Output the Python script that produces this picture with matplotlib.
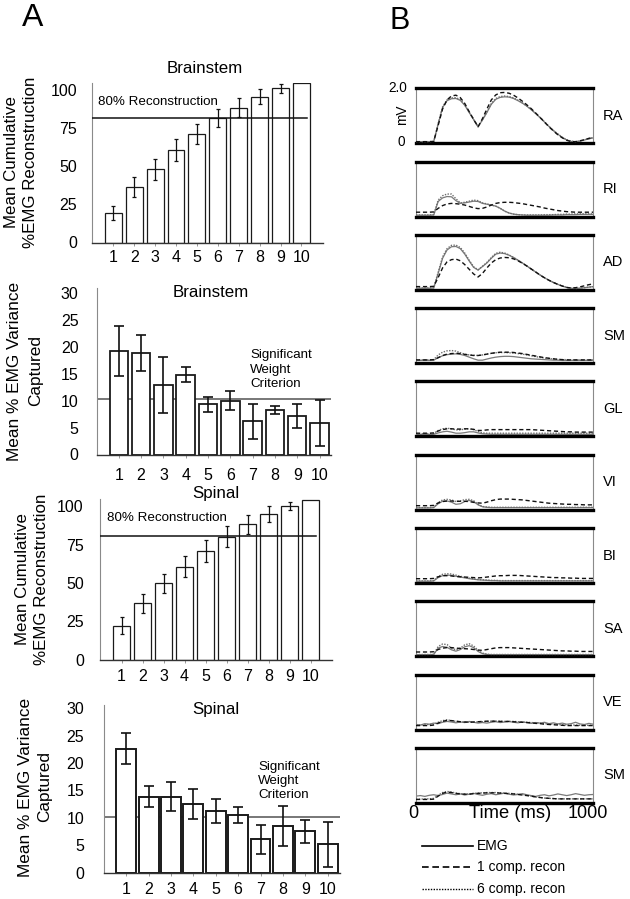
import matplotlib
matplotlib.use('Agg')
import matplotlib.pyplot as plt
from matplotlib.lines import Line2D

plt.rcParams['font.family'] = ['Liberation Sans', 'DejaVu Sans']

# ---------------- data: panel A ----------------
components = list(range(1, 11))
comp_labels = [str(c) for c in components]

bs_cum = [19.5, 36.2, 48.0, 60.6, 71.1, 81.4, 88.3, 95.5, 101.0, 104.7]
bs_cum_err = [4.7, 6.7, 7.0, 6.9, 6.8, 6.0, 6.2, 4.8, 2.8, 0]
bs_var = [19.25, 18.8, 12.9, 14.8, 9.3, 10.0, 6.2, 8.25, 7.2, 5.8]
bs_var_err = [4.65, 3.3, 5.2, 1.4, 1.4, 1.7, 3.25, 0.8, 2.2, 4.3]
sp_cum = [22.1, 36.7, 49.8, 60.7, 71.1, 80.3, 88.4, 94.9, 100.5, 104.2]
sp_cum_err = [5.4, 6.3, 6.3, 7.0, 7.1, 6.7, 6.3, 5.3, 2.5, 0]
sp_var = [22.6, 13.9, 13.9, 12.5, 11.3, 10.5, 6.1, 8.5, 7.6, 5.2]
sp_var_err = [2.8, 1.95, 2.65, 2.7, 2.2, 1.45, 2.6, 3.65, 2.1, 4.1]

bs_recon_line = 81.8
sp_recon_line = 80.9
bs_weight_line = 10.2
sp_weight_line = 10.2

cum_yticks = [0, 25, 50, 75, 100]
var_yticks = [0, 5, 10, 15, 20, 25, 30]

# ---------------- data: panel B ----------------
time_ms = list(range(0, 1001, 25))
muscles = ['RA', 'RI', 'AD', 'SM', 'GL', 'VI', 'BI', 'SA', 'VE', 'SM']

ra_emg = [0.05, 0.05, 0.05, 0.05, 0.06, 0.7, 1.3, 1.55, 1.62, 1.63,
          1.56, 1.38, 1.12, 0.86, 0.6, 0.85, 1.12, 1.42, 1.6, 1.67,
          1.69, 1.68, 1.63, 1.55, 1.46, 1.35, 1.22, 1.08, 0.93, 0.77,
          0.61, 0.46, 0.33, 0.21, 0.12, 0.07, 0.05, 0.08, 0.12, 0.16, 0.2]
ra_c1 = [0.06, 0.06, 0.06, 0.06, 0.07, 0.65, 1.25, 1.58, 1.72, 1.75,
         1.66, 1.45, 1.15, 0.87, 0.6, 0.9, 1.25, 1.58, 1.76, 1.84,
         1.85, 1.82, 1.75, 1.65, 1.53, 1.4, 1.26, 1.1, 0.94, 0.77,
         0.6, 0.45, 0.31, 0.2, 0.11, 0.06, 0.06, 0.09, 0.13, 0.18, 0.22]
ra_c6 = [0.06, 0.06, 0.06, 0.06, 0.07, 0.72, 1.33, 1.58, 1.65, 1.66,
         1.59, 1.4, 1.13, 0.87, 0.61, 0.86, 1.14, 1.45, 1.63, 1.7,
         1.72, 1.7, 1.65, 1.57, 1.47, 1.36, 1.23, 1.09, 0.94, 0.78,
         0.62, 0.47, 0.34, 0.22, 0.13, 0.08, 0.06, 0.09, 0.13, 0.17, 0.21]

ri_emg = [0.05, 0.05, 0.05, 0.05, 0.06, 0.55, 0.68, 0.73, 0.72, 0.58,
          0.48, 0.5, 0.53, 0.56, 0.55, 0.48, 0.45, 0.42, 0.38, 0.3,
          0.2, 0.13, 0.09, 0.07, 0.06, 0.05, 0.05, 0.05, 0.05, 0.05,
          0.05, 0.06, 0.06, 0.06, 0.07, 0.07, 0.07, 0.08, 0.08, 0.08, 0.08]
ri_c1 = [0.16, 0.16, 0.16, 0.16, 0.17, 0.3, 0.4, 0.46, 0.48, 0.47,
         0.45, 0.42, 0.37, 0.32, 0.29, 0.3, 0.35, 0.42, 0.48, 0.51,
         0.52, 0.52, 0.51, 0.49, 0.47, 0.44, 0.41, 0.38, 0.35, 0.31,
         0.28, 0.25, 0.22, 0.2, 0.18, 0.17, 0.16, 0.16, 0.16, 0.16, 0.16]
ri_c6 = [0.06, 0.06, 0.06, 0.06, 0.07, 0.6, 0.76, 0.82, 0.82, 0.65,
         0.5, 0.52, 0.56, 0.6, 0.58, 0.5, 0.46, 0.42, 0.38, 0.3,
         0.2, 0.13, 0.09, 0.07, 0.06, 0.06, 0.06, 0.06, 0.06, 0.07,
         0.07, 0.07, 0.08, 0.08, 0.09, 0.09, 0.1, 0.1, 0.1, 0.1, 0.1]

ad_emg = [0.06, 0.06, 0.06, 0.06, 0.07, 0.6, 1.15, 1.45, 1.57, 1.58,
          1.5, 1.3, 1.05, 0.82, 0.72, 0.85, 0.98, 1.15, 1.3, 1.34,
          1.32, 1.26, 1.18, 1.08, 0.98, 0.87, 0.76, 0.65, 0.54, 0.44,
          0.35, 0.27, 0.2, 0.14, 0.09, 0.06, 0.05, 0.06, 0.08, 0.1, 0.12]
ad_c1 = [0.12, 0.12, 0.12, 0.12, 0.13, 0.45, 0.8, 1.02, 1.1, 1.12,
         1.06, 0.92, 0.75, 0.58, 0.47, 0.6, 0.8, 0.98, 1.1, 1.16,
         1.18, 1.17, 1.13, 1.06, 0.97, 0.87, 0.76, 0.65, 0.54, 0.44,
         0.35, 0.27, 0.2, 0.14, 0.09, 0.07, 0.08, 0.11, 0.15, 0.19, 0.22]
ad_c6 = [0.07, 0.07, 0.07, 0.07, 0.08, 0.64, 1.2, 1.5, 1.62, 1.63,
         1.54, 1.34, 1.08, 0.84, 0.73, 0.86, 1.0, 1.18, 1.33, 1.37,
         1.34, 1.27, 1.18, 1.08, 0.98, 0.87, 0.76, 0.65, 0.54, 0.44,
         0.35, 0.27, 0.2, 0.14, 0.09, 0.06, 0.05, 0.06, 0.08, 0.1, 0.12]

sm1_emg = [0.1, 0.1, 0.1, 0.1, 0.11, 0.2, 0.27, 0.31, 0.33, 0.34,
           0.32, 0.28, 0.22, 0.16, 0.11, 0.11, 0.15, 0.19, 0.22, 0.24,
           0.25, 0.25, 0.24, 0.22, 0.2, 0.18, 0.16, 0.15, 0.14, 0.13,
           0.12, 0.11, 0.11, 0.1, 0.1, 0.1, 0.1, 0.1, 0.1, 0.1, 0.1]
sm1_c1 = [0.12, 0.12, 0.12, 0.12, 0.13, 0.2, 0.28, 0.33, 0.35, 0.36,
          0.35, 0.32, 0.3, 0.28, 0.28, 0.3, 0.33, 0.36, 0.38, 0.4,
          0.4, 0.4, 0.39, 0.37, 0.35, 0.32, 0.29, 0.26, 0.23, 0.2,
          0.18, 0.16, 0.14, 0.13, 0.12, 0.12, 0.12, 0.12, 0.12, 0.12, 0.12]
sm1_c6 = [0.12, 0.12, 0.12, 0.12, 0.13, 0.3, 0.4, 0.45, 0.46, 0.44,
          0.38, 0.33, 0.3, 0.29, 0.28, 0.3, 0.33, 0.36, 0.38, 0.39,
          0.39, 0.38, 0.37, 0.35, 0.33, 0.3, 0.27, 0.24, 0.21, 0.19,
          0.17, 0.15, 0.14, 0.13, 0.13, 0.12, 0.12, 0.12, 0.12, 0.12, 0.12]

gl_emg = [0.07, 0.07, 0.07, 0.07, 0.08, 0.13, 0.17, 0.19, 0.16, 0.12,
          0.12, 0.14, 0.17, 0.17, 0.13, 0.1, 0.09, 0.08, 0.08, 0.08,
          0.08, 0.08, 0.08, 0.08, 0.08, 0.08, 0.08, 0.08, 0.08, 0.08,
          0.08, 0.08, 0.08, 0.08, 0.08, 0.08, 0.08, 0.08, 0.08, 0.08, 0.08]
gl_c1 = [0.12, 0.12, 0.12, 0.12, 0.13, 0.2, 0.25, 0.28, 0.28, 0.27,
         0.27, 0.28, 0.28, 0.26, 0.22, 0.22, 0.24, 0.25, 0.25, 0.25,
         0.25, 0.25, 0.25, 0.25, 0.25, 0.25, 0.25, 0.24, 0.23, 0.22,
         0.21, 0.2, 0.19, 0.18, 0.17, 0.17, 0.16, 0.16, 0.16, 0.16, 0.16]
gl_c6 = [0.1, 0.1, 0.1, 0.1, 0.11, 0.22, 0.28, 0.3, 0.28, 0.24,
         0.24, 0.27, 0.28, 0.25, 0.18, 0.13, 0.12, 0.12, 0.12, 0.12,
         0.12, 0.12, 0.12, 0.12, 0.12, 0.12, 0.12, 0.12, 0.12, 0.12,
         0.12, 0.12, 0.12, 0.12, 0.12, 0.12, 0.12, 0.12, 0.12, 0.12, 0.12]

vi_emg = [0.07, 0.07, 0.07, 0.07, 0.08, 0.22, 0.31, 0.32, 0.28, 0.2,
          0.22, 0.3, 0.34, 0.3, 0.18, 0.11, 0.09, 0.08, 0.08, 0.08,
          0.08, 0.08, 0.08, 0.08, 0.08, 0.08, 0.08, 0.08, 0.08, 0.08,
          0.08, 0.08, 0.08, 0.08, 0.08, 0.08, 0.08, 0.08, 0.08, 0.08, 0.08]
vi_c1 = [0.15, 0.15, 0.15, 0.15, 0.16, 0.25, 0.3, 0.32, 0.32, 0.31,
         0.31, 0.31, 0.3, 0.27, 0.25, 0.24, 0.28, 0.33, 0.37, 0.39,
         0.39, 0.39, 0.38, 0.37, 0.36, 0.34, 0.32, 0.3, 0.28, 0.26,
         0.24, 0.23, 0.22, 0.21, 0.2, 0.2, 0.19, 0.19, 0.18, 0.18, 0.18]
vi_c6 = [0.08, 0.08, 0.08, 0.08, 0.09, 0.26, 0.36, 0.38, 0.36, 0.3,
         0.32, 0.37, 0.38, 0.33, 0.2, 0.12, 0.1, 0.09, 0.09, 0.09,
         0.09, 0.09, 0.09, 0.09, 0.09, 0.09, 0.09, 0.09, 0.09, 0.09,
         0.09, 0.09, 0.09, 0.09, 0.09, 0.09, 0.09, 0.09, 0.09, 0.09, 0.09]

bi_emg = [0.07, 0.07, 0.07, 0.07, 0.08, 0.2, 0.27, 0.29, 0.28, 0.25,
          0.22, 0.19, 0.16, 0.14, 0.12, 0.11, 0.1, 0.09, 0.09, 0.08,
          0.08, 0.08, 0.08, 0.08, 0.08, 0.08, 0.08, 0.08, 0.08, 0.08,
          0.08, 0.08, 0.08, 0.08, 0.08, 0.08, 0.08, 0.08, 0.08, 0.08, 0.08]
bi_c1 = [0.16, 0.16, 0.16, 0.16, 0.17, 0.23, 0.27, 0.27, 0.26, 0.24,
         0.23, 0.22, 0.21, 0.2, 0.19, 0.2, 0.22, 0.24, 0.26, 0.27,
         0.27, 0.28, 0.28, 0.28, 0.27, 0.26, 0.25, 0.24, 0.23, 0.22,
         0.21, 0.2, 0.2, 0.19, 0.19, 0.18, 0.18, 0.17, 0.17, 0.17, 0.17]
bi_c6 = [0.08, 0.08, 0.08, 0.08, 0.09, 0.24, 0.32, 0.34, 0.33, 0.29,
         0.25, 0.21, 0.18, 0.15, 0.13, 0.12, 0.11, 0.1, 0.1, 0.09,
         0.09, 0.09, 0.09, 0.09, 0.09, 0.09, 0.09, 0.09, 0.09, 0.09,
         0.09, 0.09, 0.09, 0.09, 0.09, 0.09, 0.09, 0.09, 0.09, 0.09, 0.09]

sa_emg = [0.06, 0.06, 0.06, 0.06, 0.07, 0.3, 0.36, 0.33, 0.24, 0.19,
          0.25, 0.35, 0.39, 0.32, 0.18, 0.1, 0.07, 0.06, 0.06, 0.06,
          0.06, 0.06, 0.06, 0.06, 0.06, 0.06, 0.06, 0.06, 0.06, 0.06,
          0.06, 0.06, 0.06, 0.06, 0.06, 0.06, 0.06, 0.06, 0.06, 0.06, 0.06]
sa_c1 = [0.16, 0.16, 0.16, 0.16, 0.17, 0.25, 0.3, 0.32, 0.32, 0.3,
         0.29, 0.28, 0.27, 0.25, 0.23, 0.22, 0.25, 0.28, 0.31, 0.32,
         0.32, 0.32, 0.31, 0.3, 0.29, 0.28, 0.27, 0.26, 0.25, 0.24,
         0.23, 0.22, 0.21, 0.2, 0.2, 0.19, 0.19, 0.18, 0.18, 0.18, 0.18]
sa_c6 = [0.07, 0.07, 0.07, 0.07, 0.08, 0.36, 0.45, 0.43, 0.3, 0.24,
         0.3, 0.42, 0.46, 0.38, 0.22, 0.12, 0.08, 0.07, 0.07, 0.07,
         0.07, 0.07, 0.07, 0.07, 0.07, 0.07, 0.07, 0.07, 0.07, 0.07,
         0.07, 0.07, 0.07, 0.07, 0.07, 0.07, 0.07, 0.07, 0.07, 0.07, 0.07]

ve_emg = [0.19, 0.17, 0.22, 0.2, 0.24, 0.22, 0.27, 0.3, 0.28, 0.25,
          0.28, 0.26, 0.3, 0.27, 0.24, 0.26, 0.24, 0.27, 0.29, 0.26,
          0.28, 0.3, 0.27, 0.25, 0.28, 0.26, 0.23, 0.26, 0.24, 0.27,
          0.22, 0.25, 0.21, 0.24, 0.2, 0.22, 0.27, 0.21, 0.19, 0.23, 0.2]
ve_c1 = [0.15, 0.15, 0.15, 0.15, 0.17, 0.24, 0.3, 0.34, 0.33, 0.31,
         0.29, 0.28, 0.27, 0.28, 0.29, 0.3, 0.31, 0.31, 0.31, 0.3,
         0.3, 0.3, 0.29, 0.28, 0.27, 0.26, 0.25, 0.23, 0.22, 0.2,
         0.19, 0.18, 0.17, 0.16, 0.15, 0.15, 0.15, 0.15, 0.15, 0.15, 0.15]
ve_c6 = [0.17, 0.17, 0.18, 0.19, 0.2, 0.27, 0.33, 0.36, 0.33, 0.3,
         0.29, 0.28, 0.27, 0.27, 0.28, 0.29, 0.3, 0.31, 0.31, 0.31,
         0.3, 0.3, 0.3, 0.29, 0.28, 0.27, 0.26, 0.25, 0.24, 0.22,
         0.21, 0.2, 0.19, 0.18, 0.17, 0.17, 0.17, 0.16, 0.16, 0.16, 0.16]

sm2_emg = [0.25, 0.27, 0.24, 0.28, 0.3, 0.27, 0.31, 0.36, 0.33, 0.3,
           0.33, 0.29, 0.32, 0.35, 0.31, 0.28, 0.32, 0.34, 0.3, 0.33,
           0.36, 0.32, 0.29, 0.31, 0.34, 0.3, 0.27, 0.24, 0.28, 0.3,
           0.26, 0.29, 0.33, 0.3, 0.27, 0.3, 0.34, 0.31, 0.28, 0.3, 0.31]
sm2_c1 = [0.13, 0.13, 0.13, 0.13, 0.14, 0.25, 0.35, 0.4, 0.38, 0.35,
          0.33, 0.32, 0.32, 0.34, 0.35, 0.36, 0.37, 0.37, 0.37, 0.36,
          0.35, 0.34, 0.33, 0.31, 0.29, 0.27, 0.25, 0.22, 0.2, 0.18,
          0.17, 0.16, 0.15, 0.15, 0.15, 0.15, 0.15, 0.15, 0.15, 0.15, 0.15]
sm2_c6 = [0.14, 0.14, 0.15, 0.15, 0.17, 0.28, 0.38, 0.42, 0.4, 0.36,
          0.34, 0.33, 0.33, 0.35, 0.36, 0.37, 0.38, 0.38, 0.38, 0.37,
          0.36, 0.35, 0.34, 0.32, 0.3, 0.28, 0.25, 0.22, 0.2, 0.18,
          0.17, 0.16, 0.15, 0.15, 0.15, 0.15, 0.15, 0.15, 0.15, 0.15, 0.15]

emg_series = [ra_emg, ri_emg, ad_emg, sm1_emg, gl_emg, vi_emg, bi_emg, sa_emg, ve_emg, sm2_emg]
c1_series = [ra_c1, ri_c1, ad_c1, sm1_c1, gl_c1, vi_c1, bi_c1, sa_c1, ve_c1, sm2_c1]
c6_series = [ra_c6, ri_c6, ad_c6, sm1_c6, gl_c6, vi_c6, bi_c6, sa_c6, ve_c6, sm2_c6]

# ---------------- figure ----------------
W, H = 630, 899
fig = plt.figure(figsize=(W / 100, H / 100), dpi=100)


def axpx(l, t, r, b):
    return fig.add_axes([l / W, 1 - b / H, (r - l) / W, (b - t) / H])


def ftext(x, y, s, **kw):
    kw.setdefault('ha', 'center')
    kw.setdefault('va', 'center')
    return fig.text(x / W, 1 - y / H, s, **kw)


def bar_panel(ax, vals, errs, width, capsize, elw, edge_lw, xmax, ymax, yticks, ypad, xpad):
    ax.bar(components, vals, width=width, color='white', edgecolor='#1a1a1a',
           linewidth=edge_lw, zorder=2)
    xs = [c for c, e in zip(components, errs) if e > 0]
    ys = [v for v, e in zip(vals, errs) if e > 0]
    es = [e for e in errs if e > 0]
    ax.errorbar(xs, ys, yerr=es, fmt='none', ecolor='#111111', elinewidth=elw,
                capsize=capsize, capthick=elw, zorder=3)
    ax.set_xlim(0, xmax)
    ax.set_ylim(0, ymax)
    ax.set_xticks(components)
    ax.set_xticklabels(comp_labels, fontsize=11.5)
    ax.set_yticks(yticks)
    ax.set_yticklabels([str(t) for t in yticks], fontsize=11.5)
    ax.tick_params(axis='y', length=0, pad=ypad)
    ax.tick_params(axis='x', length=2, width=0.6, color='#888888', pad=xpad)
    for s in ['top', 'right']:
        ax.spines[s].set_visible(False)
    ax.spines['left'].set_color('#8a8a8a')
    ax.spines['left'].set_linewidth(0.8)
    ax.spines['bottom'].set_color('#333333')
    ax.spines['bottom'].set_linewidth(1.0)
    ax.patch.set_alpha(0)


# A1: Brainstem cumulative
a1 = axpx(92.4, 82.7, 323.0, 242.5)
bar_panel(a1, bs_cum, bs_cum_err, 0.81, 1.7, 0.9, 0.9, 11.03, 104.7, cum_yticks, 11, 3.4)
a1.axhline(bs_recon_line, xmin=0, xmax=10.27 / 11.03, color='#111111', lw=1.1, zorder=4)
ftext(98.3, 101.7, '80% Reconstruction', ha='left', fontsize=9.6)
ftext(205, 68.3, 'Brainstem', fontsize=12.2)
ftext(12, 162, 'Mean Cumulative', rotation=90, fontsize=12.2)
ftext(31, 162, '%EMG Reconstruction', rotation=90, fontsize=12.2)

# A2: Brainstem variance
a2 = axpx(96.5, 288.3, 330.7, 454.5)
bar_panel(a2, bs_var, bs_var_err, 0.83, 3.8, 1.2, 1.3, 10.5, 30.8, var_yticks, 13, 7.5)
a2.axhline(bs_weight_line, color='#777777', lw=1.4, zorder=1)
ftext(250, 369.5, 'Significant\nWeight\nCriterion', ha='left', fontsize=9.6, linespacing=1.25)
ftext(211, 292.7, 'Brainstem', fontsize=12.2)
ftext(15, 371, 'Mean % EMG Variance', rotation=90, fontsize=12.4)
ftext(36, 371, 'Captured', rotation=90, fontsize=12.4)

# A3: Spinal cumulative
a3 = axpx(100.5, 499.3, 331.7, 659.5)
bar_panel(a3, sp_cum, sp_cum_err, 0.82, 1.7, 0.9, 0.9, 11.0, 104.7, cum_yticks, 12, 4.7)
a3.axhline(sp_recon_line, xmin=0, xmax=10.26 / 11.0, color='#111111', lw=1.1, zorder=4)
ftext(106.7, 518.3, '80% Reconstruction', ha='left', fontsize=9.6)
ftext(215.8, 493.3, 'Spinal', fontsize=12.2)
ftext(23, 579, 'Mean Cumulative', rotation=90, fontsize=12.2)
ftext(42, 579, '%EMG Reconstruction', rotation=90, fontsize=12.2)

# A4: Spinal variance
a4 = axpx(103.8, 705.0, 340.0, 872.7)
bar_panel(a4, sp_var, sp_var_err, 0.89, 3.6, 1.2, 1.4, 10.55, 30.6, var_yticks, 14, 5)
a4.axhline(sp_weight_line, color='#777777', lw=1.4, zorder=1)
ftext(258.3, 781, 'Significant\nWeight\nCriterion', ha='left', fontsize=9.6, linespacing=1.25)
ftext(216, 709.3, 'Spinal', fontsize=12.2)
ftext(26, 787, 'Mean % EMG Variance', rotation=90, fontsize=12.4)
ftext(45, 787, 'Captured', rotation=90, fontsize=12.4)

# panel letters
ftext(33, 18, 'A', fontsize=23)
ftext(400, 21, 'B', fontsize=22)

# ---------------- panel B ----------------
b_left, b_right = 416.0, 593.3
b_top0, b_step, b_h = 88.3, 73.3, 55.0
for i, name in enumerate(muscles):
    top = b_top0 + i * b_step
    ax = axpx(b_left, top, b_right, top + b_h)
    ax.plot(time_ms, emg_series[i], color='#7a7a7a', lw=0.9, zorder=2)
    ax.plot(time_ms, c6_series[i], color='#6e6e6e', lw=1.0, ls=(0, (1, 1)), zorder=3)
    ax.plot(time_ms, c1_series[i], color='#111111', lw=1.0, ls=(0, (3, 2)), zorder=4)
    ax.set_xlim(0, 1000)
    ax.set_ylim(0, 2.0)
    ax.set_xticks([])
    ax.set_yticks([])
    for s in ['top', 'bottom']:
        ax.spines[s].set_linewidth(2.4)
        ax.spines[s].set_color('black')
    for s in ['left', 'right']:
        ax.spines[s].set_linewidth(0.8)
        ax.spines[s].set_color('#8a8a8a')
    ftext(603, top + b_h / 2, name, ha='left', fontsize=10.5)

ftext(397.5, 88.3, '2.0', fontsize=9.8)
ftext(401.7, 141.7, '0', fontsize=9.8)
ftext(402.5, 115, 'mV', rotation=90, fontsize=9.8)

last_bottom = b_top0 + 9 * b_step + b_h
ftext(413, 814, '0', fontsize=13)
ftext(588, 814, '1000', fontsize=13)
ftext(510, 814, 'Time (ms)', fontsize=13.2)

# legend (manual, figure-pixel overlay)
ov = fig.add_axes([0, 0, 1, 1])
ov.set_xlim(0, W)
ov.set_ylim(H, 0)
ov.axis('off')
leg_y = [846, 866.7, 889.3]
leg_txt = ['EMG', '1 comp. recon', '6 comp. recon']
leg_ls = ['-', (0, (4, 2.2)), (0, (1, 1))]
leg_lw = [1.2, 1.2, 1.0]
for yy, txt, ls, lw in zip(leg_y, leg_txt, leg_ls, leg_lw):
    ov.add_line(Line2D([421.7, 473.3], [yy, yy], color='black', ls=ls, lw=lw))
    ftext(477, yy, txt, ha='left', fontsize=10)

fig.savefig('out.png', dpi=100)
